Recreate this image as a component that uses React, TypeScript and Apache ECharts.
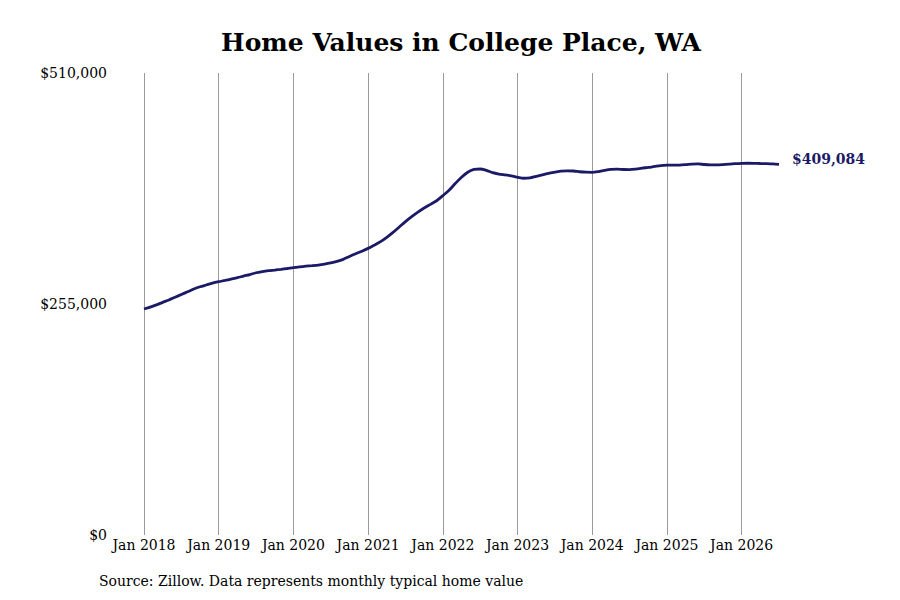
import React, { useEffect, useRef } from 'react';
import * as echarts from 'echarts';

// Zillow typical home value, College Place WA, monthly Jan 2018 - Jul 2026
const years = [2018, 2019, 2020, 2021, 2022, 2023, 2024, 2025, 2026];
const monthNames = ['Jan', 'Feb', 'Mar', 'Apr', 'May', 'Jun', 'Jul', 'Aug', 'Sep', 'Oct', 'Nov', 'Dec'];

const values2018 = [249500, 251500, 254000, 256800, 259500, 262500, 265500, 268500, 271500, 274000, 276000, 278000];
const values2019 = [279600, 281000, 282500, 284000, 285800, 287500, 289500, 290800, 291800, 292500, 293300, 294200];
const values2020 = [295200, 296000, 296700, 297300, 298000, 299000, 300300, 302000, 304300, 307500, 310500, 313300];
const values2021 = [316400, 320000, 323800, 328500, 334000, 340000, 346000, 351500, 356500, 361000, 365000, 369000];
const values2022 = [374600, 380500, 388000, 395000, 400500, 403500, 404000, 402500, 400000, 398500, 397500, 396500];
const values2023 = [395000, 393800, 394300, 396000, 397500, 399200, 400500, 401700, 402000, 401800, 401000, 400500];
const values2024 = [400400, 401200, 402500, 403500, 403800, 403500, 403400, 404000, 405000, 405800, 406800, 407800];
const values2025 = [408300, 408400, 408400, 408800, 409500, 409600, 409000, 408600, 408500, 408800, 409300, 409900];
const values2026 = [410300, 410400, 410300, 410100, 409900, 409600, 409084];

const yTicks = [0, 255000, 510000];

const values = [
  ...values2018, ...values2019, ...values2020, ...values2021, ...values2022,
  ...values2023, ...values2024, ...values2025, ...values2026,
];

const months: string[] = [];
years.forEach(y => monthNames.forEach(m => months.push(`${m} ${y}`)));
const categories = months.slice(0, values.length);

const serif = '"DejaVu Serif", serif';
const lineColor = '#1b1a66';

const App: React.FC = () => {
  const chartRef = useRef<HTMLDivElement>(null);

  useEffect(() => {
    if (!chartRef.current) return;
    const chart = echarts.init(chartRef.current, null, { renderer: 'svg' });

    const isJan = (i: number) => i % 12 === 0;
    const fmtMoney = (v: number) => '$' + v.toLocaleString('en-US');

    const option: any = {
      animation: false,
      backgroundColor: '#ffffff',
      textStyle: { fontFamily: serif },
      title: [
        {
          text: 'Home Values in College Place, WA',
          left: 461,
          top: 30,
          textAlign: 'center',
          padding: 0,
          textStyle: { fontFamily: serif, fontSize: 25, fontWeight: 'bold', color: '#000' }
        },
        {
          text: 'Source: Zillow. Data represents monthly typical home value',
          left: 99,
          top: 574,
          padding: 0,
          textStyle: { fontFamily: serif, fontSize: 14, fontWeight: 'normal', color: '#000' }
        }
      ],
      grid: {
        left: 144,
        right: 121,
        top: 73,
        bottom: 65,
        containLabel: false
      },
      xAxis: {
        type: 'category',
        boundaryGap: false,
        data: categories,
        axisLine: { show: false },
        axisTick: { show: false },
        axisLabel: {
          interval: (i: number) => isJan(i),
          margin: 3,
          color: '#000',
          fontSize: 14,
          fontFamily: serif
        },
        splitLine: {
          show: true,
          interval: (i: number) => isJan(i),
          lineStyle: { color: '#9a9a9a', width: 1 }
        }
      },
      yAxis: {
        type: 'value',
        min: yTicks[0],
        max: yTicks[yTicks.length - 1],
        interval: yTicks[1] - yTicks[0],
        axisLine: { show: false },
        axisTick: { show: false },
        splitLine: { show: false },
        axisLabel: {
          margin: 37,
          color: '#000',
          fontSize: 14,
          fontFamily: serif,
          formatter: (v: number) => fmtMoney(v)
        }
      },
      series: [
        {
          type: 'line',
          data: values,
          smooth: 0.3,
          showSymbol: false,
          lineStyle: { color: lineColor, width: 2.8 },
          itemStyle: { color: lineColor },
          endLabel: {
            show: true,
            distance: 13,
            offset: [0, -5],
            formatter: (p: any) => fmtMoney(p.value),
            color: lineColor,
            fontSize: 14,
            fontWeight: 'bold',
            fontFamily: serif
          }
        }
      ]
    };

    chart.setOption(option);
    return () => {
      chart.dispose();
    };
  }, []);

  return (
    <div
      ref={chartRef}
      style={{ position: 'fixed', left: 0, top: 0, width: 900, height: 600 }}
    />
  );
};

export default App;
